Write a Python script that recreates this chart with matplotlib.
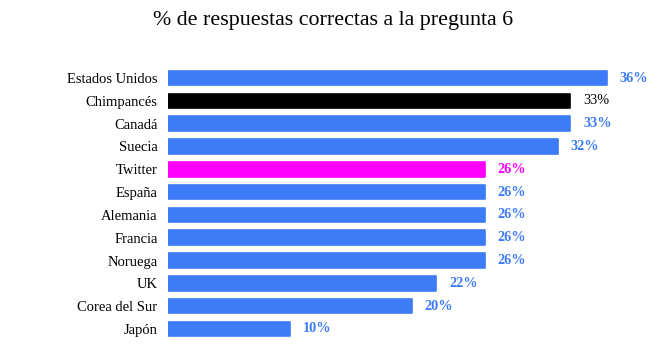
import matplotlib
matplotlib.use("Agg")
import matplotlib.pyplot as plt

paises = ['Estados Unidos', 'Chimpancés', 'Canadá', 'Suecia', 'Twitter', 'España',
          'Alemania', 'Francia', 'Noruega', 'UK', 'Corea del Sur', 'Japón']
valores = [36, 33, 33, 32, 26, 26, 26, 26, 26, 22, 20, 10]
colores = ['#3d7bf7', '#000000', '#3d7bf7', '#3d7bf7', '#ff00ff', '#3d7bf7',
           '#3d7bf7', '#3d7bf7', '#3d7bf7', '#3d7bf7', '#3d7bf7', '#3d7bf7']

plt.rcParams['font.family'] = ['Liberation Serif', 'DejaVu Serif']

fig = plt.figure(figsize=(6.66, 3.58), dpi=100)
ax = fig.add_axes([168/666, 1 - 340.4/358, 482/666, (340.4 - 66.6)/358])

y = list(range(len(paises)))
ax.barh(y, valores, height=0.64, color=colores, edgecolor=colores,
        linewidth=1.2, joinstyle='round')

for yi, v, c in zip(y, valores, colores):
    peso = 'normal' if c == '#000000' else 'bold'
    ax.text(v + 1.05, yi, f'{v}%', va='center', ha='left', color=c,
            fontsize=10.3, fontweight=peso)

ax.set_xlim(0, 482/12.19)
ax.set_ylim(len(paises) - 0.5, -0.5)
ax.set_yticks(y)
ax.set_yticklabels(paises, fontsize=10.5)
ax.tick_params(axis='y', length=0, pad=7.5)
ax.set_xticks([])
for s in ax.spines.values():
    s.set_visible(False)

fig.text(0.5, 1 - 21/358, '% de respuestas correctas a la pregunta 6',
         ha='center', va='center', fontsize=15.8)

fig.savefig('out.png', dpi=100)
